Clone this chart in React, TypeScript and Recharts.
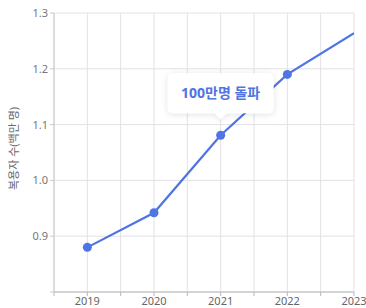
import React from 'react'
import {
  LineChart,
  Line,
  XAxis,
  YAxis,
  CartesianGrid,
  ReferenceDot,
} from 'recharts'

const years = [2019, 2020, 2021, 2022, 2023]
const users = [0.88, 0.942, 1.081, 1.19, 1.264]
const xTicks = [2018.5, 2019, 2019.5, 2020, 2020.5, 2021, 2021.5, 2022, 2022.5, 2023]
const yTicks = [0.8, 0.9, 1.0, 1.1, 1.2, 1.3]
const yLabel = '복용자 수(백만 명)'
const noteYear = 2021
const noteText = '100만명 돌파'

const data = years.map((y, i) => ({ year: y, value: users[i] }))

const BLUE = '#4f74e3'
const FONT = '"Noto Sans", "Noto Sans CJK KR", sans-serif'

const styles: Record<string, React.CSSProperties> = {
  wrap: {
    position: 'absolute',
    left: 0,
    top: 0,
    width: 366,
    height: 308,
    background: '#fff',
    fontFamily: FONT,
  },
}

function Dot(props: any) {
  const { cx, cy, index } = props
  if (index === years.length - 1) return null
  return <circle key={index} cx={cx} cy={cy} r={4.5} fill={BLUE} stroke="none" />
}

function Callout(props: any) {
  const { cx, cy } = props
  const w = 106
  const h = 40
  const top = cy - 62
  const left = cx - w / 2
  return (
    <g>
      <defs>
        <filter id="shadow" x="-30%" y="-40%" width="160%" height="200%">
          <feDropShadow dx="0" dy="1" stdDeviation="3" floodColor="#000" floodOpacity="0.12" />
        </filter>
      </defs>
      <path
        d={`M${left + 6},${top} H${left + w - 6} Q${left + w},${top} ${left + w},${top + 6} V${top + h - 6} Q${left + w},${top + h} ${left + w - 6},${top + h} H${cx + 6} L${cx},${top + h + 6} L${cx - 6},${top + h} H${left + 6} Q${left},${top + h} ${left},${top + h - 6} V${top + 6} Q${left},${top} ${left + 6},${top} Z`}
        fill="#fff"
        filter="url(#shadow)"
      />
      <text
        x={cx}
        y={top + h / 2 + 5}
        textAnchor="middle"
        fill={BLUE}
        fontSize={14}
        fontWeight={700}
        fontFamily={FONT}
      >
        {noteText}
      </text>
    </g>
  )
}

export default function App() {
  const noteValue = users[years.indexOf(noteYear)]
  return (
    <div style={styles.wrap}>
      <LineChart width={366} height={308} data={data} margin={{ top: 13, right: 12, left: 0, bottom: 0 }}>
        <CartesianGrid stroke="#e2e2e6" />
        <XAxis
          dataKey="year"
          type="number"
          domain={[2018.5, 2023]}
          ticks={xTicks}
          tickFormatter={(v: number) => (Number.isInteger(v) ? String(v) : '')}
          height={16}
          tickSize={4}
          tickMargin={1}
          stroke="#b8b8be"
          tick={{ fill: '#666', fontSize: 11, fontFamily: FONT }}
          allowDataOverflow
        />
        <YAxis
          type="number"
          domain={[0.8, 1.3]}
          ticks={yTicks}
          tickFormatter={(v: number) => (v < 0.85 ? '' : v.toFixed(1))}
          width={54}
          tickSize={4}
          tickMargin={2}
          stroke="#c8c8ce"
          tick={{ fill: '#777', fontSize: 11, fontFamily: FONT }}
          allowDataOverflow
          label={{
            content: (p: any) => {
              const vb = p.viewBox || {}
              const x = (vb.x ?? 0) + 13
              const y = (vb.y ?? 0) + (vb.height ?? 0) / 2 - 4
              return (
                <text
                  x={x}
                  y={y}
                  transform={`rotate(-90, ${x}, ${y})`}
                  textAnchor="middle"
                  dominantBaseline="central"
                  style={{ fill: '#666', stroke: 'none' }}
                  fontSize={11}
                  fontFamily={FONT}
                >
                  {yLabel}
                </text>
              )
            },
          }}
        />
        <Line
          type="linear"
          dataKey="value"
          stroke={BLUE}
          strokeWidth={2.2}
          dot={<Dot />}
          activeDot={false}
          isAnimationActive={false}
        />
        <ReferenceDot x={noteYear} y={noteValue} shape={<Callout />} />
      </LineChart>
    </div>
  )
}
